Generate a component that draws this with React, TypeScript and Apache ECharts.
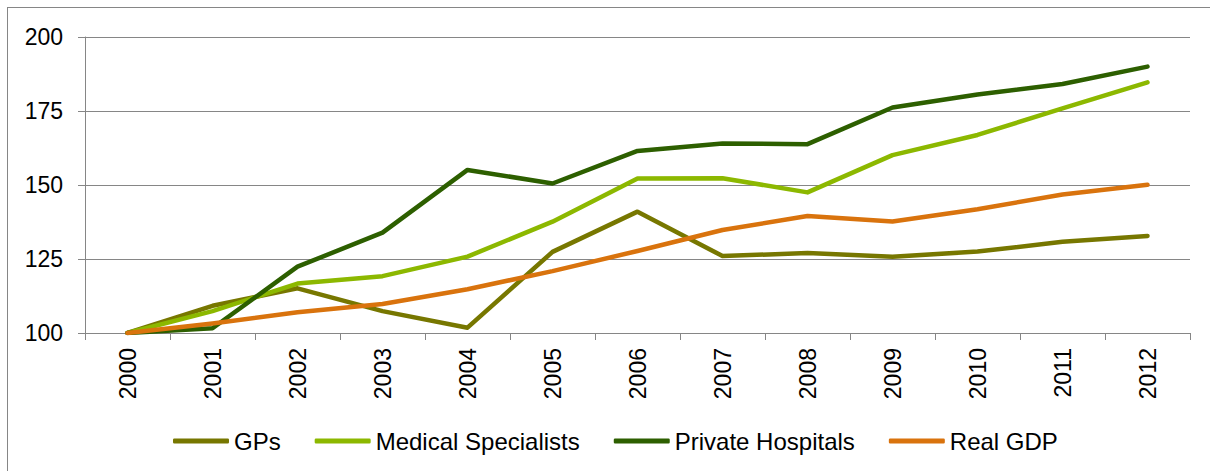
import React, { useEffect, useRef } from "react";
import * as echarts from "echarts";

const years = ["2000", "2001", "2002", "2003", "2004", "2005", "2006", "2007", "2008", "2009", "2010", "2011", "2012"];
const gps = [100, 109.2, 115.1, 107.4, 101.8, 127.4, 141.0, 126.0, 127.0, 125.8, 127.5, 130.8, 132.8];
const medicalSpecialists = [100, 107.4, 116.7, 119.2, 125.8, 137.6, 152.2, 152.3, 147.5, 160.1, 166.9, 175.9, 184.7];
const privateHospitals = [100, 101.6, 122.4, 133.9, 155.1, 150.5, 161.5, 164.0, 163.8, 176.2, 180.6, 184.1, 190.0];
const realGdp = [100, 103.2, 107.0, 109.8, 114.8, 120.9, 127.7, 134.8, 139.5, 137.7, 141.8, 146.8, 150.1];

const seriesNames = ["GPs", "Medical Specialists", "Private Hospitals", "Real GDP"];
const seriesColors = ["#777700", "#8CB800", "#2D5F00", "#D9730D"];
const seriesData = [gps, medicalSpecialists, privateHospitals, realGdp];

const FONT = "'Liberation Sans', Arial, sans-serif";
const GRAY = "#868686";

export default function App() {
  const ref = useRef<HTMLDivElement>(null);
  useEffect(() => {
    if (!ref.current) return;
    const chart = echarts.init(ref.current, null, { renderer: "svg" });
    chart.setOption({
      animation: false,
      backgroundColor: "#ffffff",
      textStyle: { fontFamily: FONT },
      grid: { left: 77, top: 29, width: 1105, height: 296, containLabel: false },
      legend: {
        left: 160,
        top: 416,
        itemWidth: 56,
        itemHeight: 5,
        itemGap: 34,
        icon: "roundRect",
        data: seriesNames,
        textStyle: { fontSize: 24, color: "#000", fontFamily: FONT },
      },
      xAxis: {
        type: "category",
        data: years,
        boundaryGap: true,
        axisLine: { show: true, lineStyle: { color: GRAY, width: 1 } },
        axisTick: { show: true, length: 7, lineStyle: { color: GRAY } },
        axisLabel: { rotate: 90, margin: 15, fontSize: 23, color: "#000", fontFamily: FONT },
        splitLine: { show: false },
      },
      yAxis: {
        type: "value",
        min: 100,
        max: 200,
        interval: 25,
        axisLine: { show: true, lineStyle: { color: GRAY, width: 1 } },
        axisTick: { show: true, length: 7, lineStyle: { color: GRAY } },
        axisLabel: { margin: 22, fontSize: 23, color: "#000", fontFamily: FONT },
        splitLine: { show: true, lineStyle: { color: GRAY, width: 1 } },
      },
      series: seriesNames.map((name, i) => ({
        name,
        type: "line",
        data: seriesData[i],
        symbol: "none",
        color: seriesColors[i],
        itemStyle: { color: seriesColors[i] },
        lineStyle: { width: 4.5, color: seriesColors[i], cap: "round", join: "round" },
      })),
    });
    return () => chart.dispose();
  }, []);
  return (
    <div
      style={{
        position: "absolute",
        left: 7,
        top: 7,
        width: 1210,
        height: 470,
        border: `1px solid ${GRAY}`,
        background: "#fff",
      }}
    >
      <div ref={ref} style={{ width: 1210, height: 470 }} />
    </div>
  );
}
